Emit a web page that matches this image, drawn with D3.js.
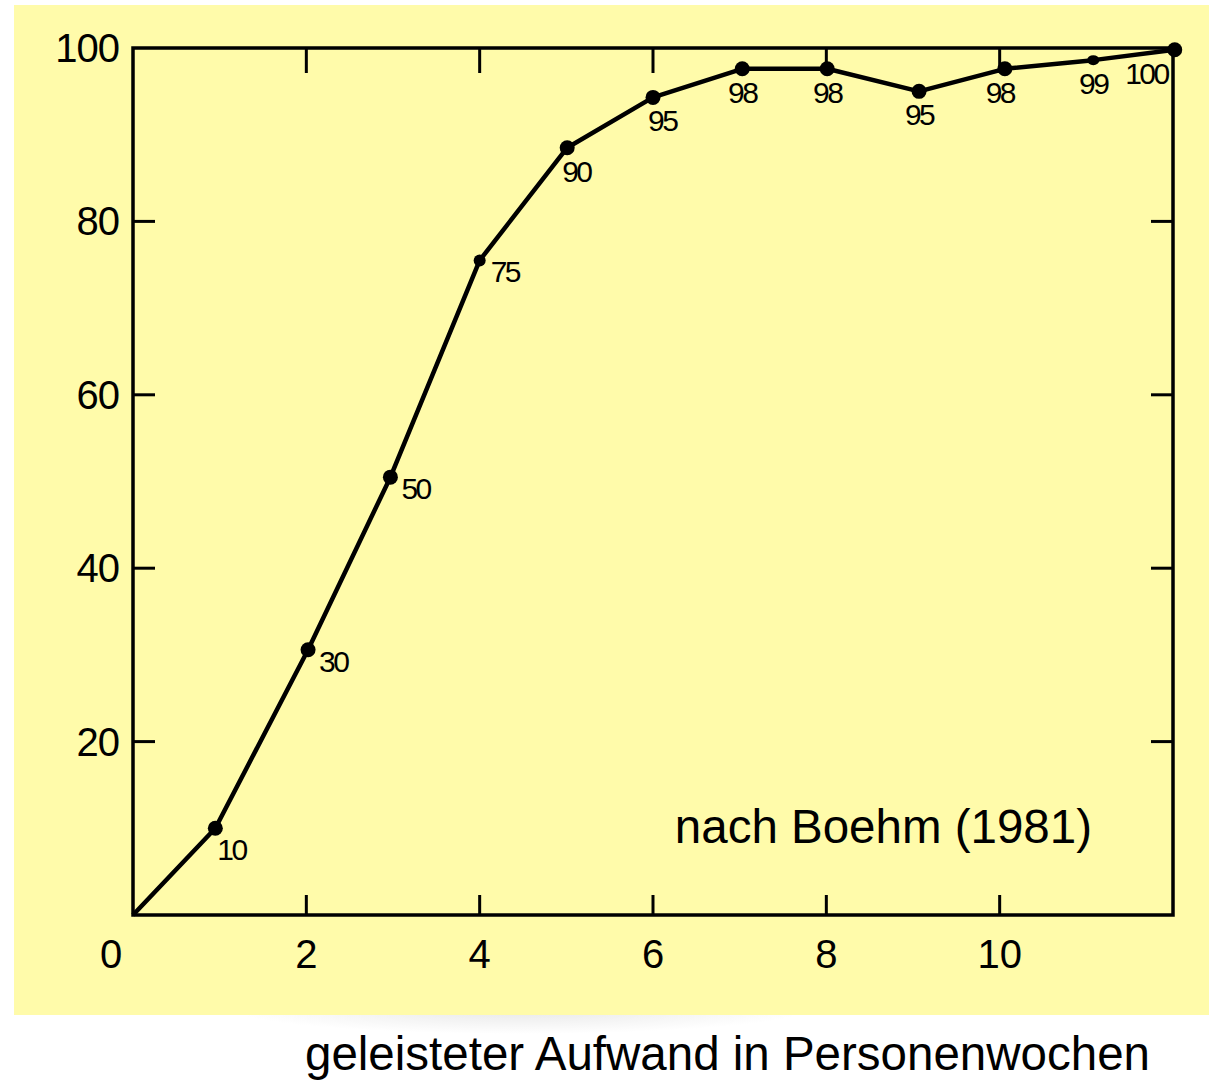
<!DOCTYPE html>
<html><head><meta charset="utf-8">
<script src="https://cdn.jsdelivr.net/npm/d3@7"></script>
<style>html,body{margin:0;padding:0;background:#fff;}svg{display:block;}text{font-family:"Liberation Sans",Arial,Helvetica,sans-serif;fill:#000;}</style>
</head><body>
<script>
// Data
const effortWeeks = [0, 0.95, 2.02, 2.97, 4.0, 5.01, 6.0, 7.03, 8.01, 9.07, 10.06, 11.08, 12.02];
const percentDone = [0, 10, 30.6, 50.5, 75.5, 88.5, 94.3, 97.6, 97.6, 95.0, 97.6, 98.6, 99.8];
const pointLabels = ["", "10", "30", "50", "75", "90", "95", "98", "98", "95", "98", "99", "100"];
const xTicks = [0, 2, 4, 6, 8, 10];
const yTicks = [20, 40, 60, 80, 100];
const sourceNote = "nach Boehm (1981)";
const xTitle = "geleisteter Aufwand in Personenwochen";

const W = 1209, H = 1080;
const svg = d3.select("body").append("svg").attr("width", W).attr("height", H);

// faint shadow under panel
const defs = svg.append("defs");
const rg = defs.append("radialGradient").attr("id", "sh");
rg.append("stop").attr("offset", "0%").attr("stop-color", "#e6e6e6");
rg.append("stop").attr("offset", "100%").attr("stop-color", "#ffffff");
svg.append("ellipse").attr("cx", 520).attr("cy", 1008).attr("rx", 290).attr("ry", 26).attr("fill", "url(#sh)");

svg.append("rect").attr("x", 14).attr("y", 5).attr("width", W - 14).attr("height", 1010).attr("fill", "#fffbaa");

const L = 133, R = 1173, T = 48, B = 915;
const x = d3.scaleLinear().domain([0, 12]).range([L, R]);
const y = d3.scaleLinear().domain([0, 100]).range([B, T]);

const g = svg.append("g");

// ticks inward on all four sides
const tick = 22;
g.selectAll(".tl").data(yTicks.filter(d => d < 100)).join("line")
  .attr("x1", L).attr("x2", L + tick).attr("y1", d => y(d)).attr("y2", d => y(d))
  .attr("stroke", "#000").attr("stroke-width", 3);
g.selectAll(".tr").data(yTicks.filter(d => d < 100)).join("line")
  .attr("x1", R - tick).attr("x2", R).attr("y1", d => y(d)).attr("y2", d => y(d))
  .attr("stroke", "#000").attr("stroke-width", 3);
g.selectAll(".tt").data(xTicks.filter(d => d > 0)).join("line")
  .attr("x1", d => x(d)).attr("x2", d => x(d)).attr("y1", T).attr("y2", T + 25)
  .attr("stroke", "#000").attr("stroke-width", 3);
g.selectAll(".tb").data(xTicks.filter(d => d > 0)).join("line")
  .attr("x1", d => x(d)).attr("x2", d => x(d)).attr("y1", B - 20).attr("y2", B)
  .attr("stroke", "#000").attr("stroke-width", 3);

// frame
g.append("rect").attr("x", L).attr("y", T).attr("width", R - L).attr("height", B - T)
  .attr("fill", "none").attr("stroke", "#000").attr("stroke-width", 3.5);

// tick labels
g.selectAll(".yl").data(yTicks).join("text")
  .attr("x", L - 14).attr("y", d => y(d) + 14)
  .attr("text-anchor", "end").attr("font-size", 40).attr("letter-spacing", -1)
  .text(d => d);
g.selectAll(".xl").data(xTicks).join("text")
  .attr("x", d => d === 0 ? x(d) - 22 : x(d)).attr("y", 968)
  .attr("text-anchor", "middle").attr("font-size", 40)
  .text(d => d);

// curve
const pts = effortWeeks.map((v, i) => ({ x: v, y: percentDone[i], label: pointLabels[i], i }));
g.append("path").datum(pts)
  .attr("d", d3.line().x(d => x(d.x)).y(d => y(d.y)))
  .attr("fill", "none").attr("stroke", "#000").attr("stroke-width", 4.5).attr("stroke-linejoin", "round");

g.selectAll(".dot").data(pts.filter(d => d.i > 0)).join("ellipse")
  .attr("cx", d => x(d.x)).attr("cy", d => y(d.y))
  .attr("rx", d => (d.i === 4 || d.i === 11) ? 6 : 7.5)
  .attr("ry", d => d.i === 11 ? 5 : (d.i === 4 ? 6 : 7.5))
  .attr("fill", "#000");

// point labels
g.selectAll(".pl").data(pts.filter(d => d.i > 0)).join("text")
  .attr("x", d => {
    const px = x(d.x);
    if (d.i === 1) return px + 2;
    if (d.i <= 4) return px + 11;
    if (d.i === 5 || d.i === 6) return px - 5;
    if (d.i === 12) return px - 7;
    if (d.i === 10) return px - 5;
    return px;
  })
  .attr("y", d => {
    const py = y(d.y);
    if (d.i === 1) return py + 32;
    if (d.i <= 4) return py + 22;
    return py + 34;
  })
  .attr("text-anchor", d => (d.i <= 6) ? "start" : (d.i === 12 ? "end" : "middle"))
  .attr("font-size", 30).attr("letter-spacing", -2.5)
  .text(d => d.label);

// source note
svg.append("text").attr("x", 1092).attr("y", 843).attr("text-anchor", "end")
  .attr("font-size", 47.5).text(sourceNote);

// x axis title
svg.append("text").attr("x", 1150).attr("y", 1070).attr("text-anchor", "end")
  .attr("font-size", 47.5).text(xTitle);
</script>
</body></html>
